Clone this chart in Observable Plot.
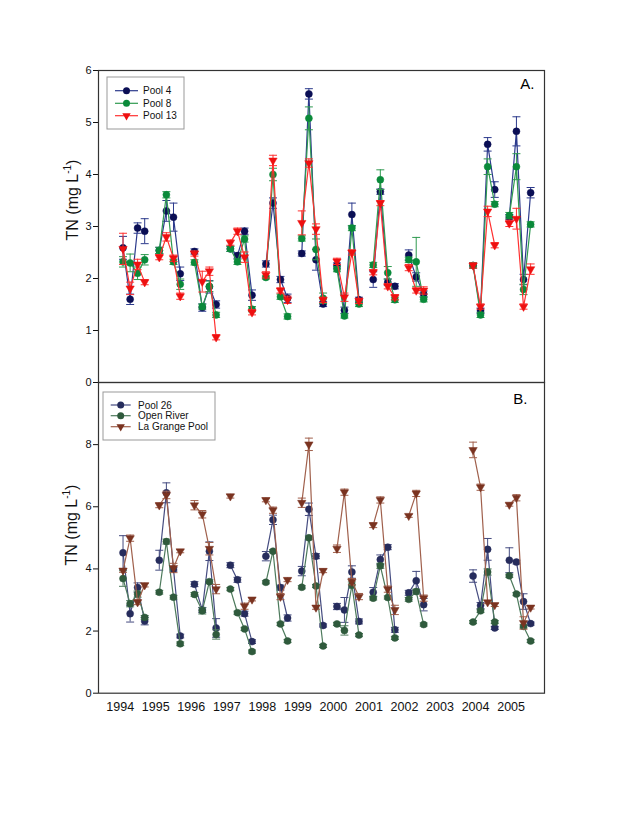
<!DOCTYPE html>
<html><head><meta charset="utf-8">
<script src="https://cdn.jsdelivr.net/npm/d3@7"></script>
<script src="https://cdn.jsdelivr.net/npm/@observablehq/plot@0.6"></script>
<style>
body{margin:0;background:#fff;font-family:"Liberation Sans",Arial,sans-serif;}
#wrap{position:relative;width:640px;height:828px;overflow:hidden;background:#fff}
#wrap svg.plot-svg{position:absolute;left:0}
.ylab{position:absolute;font-size:16px;transform:translate(-50%,-50%) rotate(-90deg);white-space:nowrap;color:#111;line-height:1}
.ylab sup{font-size:10px}
</style></head><body><div id="wrap"></div>
<script>
// sample dates (decimal years)
const sampleDates = [
 1994.08,1994.28,1994.49,1994.69,
 1995.10,1995.30,1995.50,1995.69,
 1996.09,1996.31,1996.51,1996.70,
 1997.10,1997.30,1997.50,1997.71,
 1998.10,1998.30,1998.51,1998.71,
 1999.11,1999.31,1999.51,1999.71,
 2000.10,2000.31,2000.52,2000.72,
 2001.12,2001.32,2001.53,2001.73,
 2002.12,2002.33,2002.54,
 2003.93,2004.14,2004.34,2004.54,
 2004.95,2005.15,2005.35,2005.55];
const yearTicks = [1994,1995,1996,1997,1998,1999,2000,2001,2002,2003,2004,2005];
const yTicksA = [0,1,2,3,4,5,6];
const yTicksB = [0,2,4,6,8];

// Panel A
const pool4 = [2.59,1.60,2.97,2.91, 2.54,3.30,3.18,2.09, 2.52,1.44,1.84,1.50, 2.57,2.44,2.91,1.68, 2.28,3.45,1.98,1.62, 2.48,5.55,2.36,1.51, 2.25,1.39,3.23,1.59, 1.98,3.67,1.93,1.85, 2.45,2.03,1.70, 2.25,1.38,4.58,3.71, 3.18,4.83,1.98,3.65];
const pool4Err = [0.22,0.10,0.10,0.24, 0.06,0.20,0.27,0.13, 0.05,0.07,0.12,0.07, 0.05,0.05,0.06,0.10, 0.06,0.10,0.06,0.08, 0.05,0.10,0.20,0.05, 0.05,0.06,0.22,0.05, 0.15,0.05,0.06,0.05, 0.10,0.08,0.06, 0.05,0.05,0.13,0.15, 0.05,0.28,0.10,0.10];
const pool8 = [2.32,2.30,2.10,2.36, 2.54,3.61,2.32,1.89, 2.31,1.46,1.85,1.30, 2.57,2.32,2.76,1.41, 2.02,4.00,1.65,1.27, 2.77,5.08,2.56,1.62, 2.18,1.28,2.97,1.51, 2.26,3.90,2.11,1.59, 2.36,2.32,1.60, 2.25,1.30,4.15,3.43, 3.21,4.15,1.79,3.04];
const pool8Err = [0.10,0.17,0.12,0.10, 0.06,0.06,0.05,0.10, 0.05,0.05,0.10,0.05, 0.05,0.05,0.06,0.05, 0.03,0.12,0.05,0.05, 0.05,0.22,0.20,0.10, 0.05,0.04,0.05,0.05, 0.05,0.19,0.12,0.05, 0.05,0.47,0.05, 0.05,0.05,0.15,0.05, 0.06,0.25,0.10,0.05];
const pool13 = [2.57,1.81,2.27,1.93, 2.41,2.80,2.39,1.66, 2.48,1.94,2.14,0.87, 2.69,2.91,2.41,1.35, 2.07,4.27,1.77,1.59, 3.07,4.22,2.95,1.59, 2.33,1.64,2.50,1.57, 2.12,3.45,1.85,1.64, 2.21,1.77,1.77, 2.25,1.46,3.29,2.64, 3.06,3.15,1.46,2.18];
const pool13Err = [0.30,0.12,0.10,0.05, 0.05,0.08,0.06,0.06, 0.05,0.20,0.08,0.05, 0.05,0.06,0.10,0.05, 0.06,0.10,0.05,0.07, 0.23,0.08,0.10,0.05, 0.06,0.08,0.05,0.05, 0.05,0.05,0.05,0.05, 0.06,0.05,0.07, 0.05,0.05,0.10,0.05, 0.06,0.20,0.05,0.10];

// Panel B
const pool26 = [4.52,2.56,3.40,2.32, 4.28,6.45,3.99,1.84, 3.51,2.68,4.57,2.10, 4.12,3.65,2.56,1.66, 4.41,5.58,3.40,2.42, 3.93,5.92,4.41,2.18, 2.79,2.68,3.90,2.31, 3.25,4.30,4.70,2.04, 3.23,3.62,2.85, 3.77,2.82,4.63,2.10, 4.28,4.22,2.95,2.24];
const pool26Err = [0.55,0.27,0.15,0.12, 0.32,0.32,0.06,0.06, 0.08,0.08,0.30,0.30, 0.08,0.08,0.08,0.06, 0.15,0.15,0.08,0.10, 0.15,0.20,0.08,0.05, 0.10,0.40,0.20,0.08, 0.15,0.15,0.08,0.08, 0.08,0.30,0.20, 0.20,0.10,0.35,0.05, 0.40,0.06,0.25,0.05];
const openRiver = [3.69,2.88,3.19,2.44, 3.25,4.88,3.09,1.59, 3.18,2.65,3.59,1.89, 3.35,2.59,2.07,1.34, 3.57,4.57,2.23,1.68, 3.41,5.00,3.45,1.52, 2.23,2.02,3.48,1.87, 3.06,4.10,3.08,1.78, 3.02,3.27,2.21, 2.29,2.65,3.90,2.29, 3.78,3.19,2.15,1.68];
const openRiverErr = [0.25,0.10,0.10,0.06, 0.06,0.08,0.06,0.06, 0.06,0.10,0.06,0.15, 0.05,0.05,0.05,0.05, 0.05,0.05,0.05,0.05, 0.05,0.06,0.05,0.05, 0.05,0.15,0.10,0.05, 0.06,0.08,0.05,0.05, 0.06,0.08,0.05, 0.05,0.05,0.10,0.05, 0.05,0.05,0.05,0.05];
const laGrange = [3.95,4.99,2.93,3.48, 6.05,6.38,4.03,4.57, 6.05,5.76,4.65,3.35, 6.34,null,2.80,3.02, 6.22,5.89,3.11,3.65, 6.13,8.01,2.76,3.94, 4.65,6.47,3.59,3.11, 5.41,6.22,3.35,2.68, 5.71,6.43,3.06, 7.83,6.63,2.93,2.84, 6.07,6.29,2.26,2.76];
const laGrangeErr = [0.06,0.10,0.08,0.06, 0.08,0.12,0.15,0.05, 0.15,0.12,0.20,0.15, 0.06,null,0.10,0.05, 0.06,0.10,0.10,0.06, 0.15,0.20,0.06,0.06, 0.12,0.10,0.10,0.10, 0.08,0.10,0.10,0.15, 0.05,0.10,0.10, 0.25,0.10,0.05,0.05, 0.05,0.10,0.20,0.05];

const seriesA = [
  {name:"Pool 4", vals:pool4, errs:pool4Err, line:"#2c3a8c", dot:"#0b0f55", symbol:"circle"},
  {name:"Pool 8", vals:pool8, errs:pool8Err, line:"#2f9a50", dot:"#0a8a3a", symbol:"circle"},
  {name:"Pool 13", vals:pool13, errs:pool13Err, line:"#ff3030", dot:"#ee1010", symbol:"triangle"}
];
const seriesB = [
  {name:"Pool 26", vals:pool26, errs:pool26Err, line:"#454c80", dot:"#262c5c", symbol:"circle"},
  {name:"Open River", vals:openRiver, errs:openRiverErr, line:"#4d7a5c", dot:"#2f5a3c", symbol:"circle"},
  {name:"La Grange Pool", vals:laGrange, errs:laGrangeErr, line:"#a0604c", dot:"#7a3320", symbol:"triangle"}
];

const cap = {draw(ctx, size){ const r = Math.sqrt(size/Math.PI); ctx.moveTo(-r,0); ctx.lineTo(r,0); }};

function rowsOf(s){
  return s.vals.map((v,i)=>({t:sampleDates[i], v, e:s.errs[i], grp:Math.floor(sampleDates[i]+0.1)}));
}
function marksOf(s){
  const rows = rowsOf(s);
  const ok = rows.filter(d=>d.v!=null);
  const tri = s.symbol==="triangle";
  return [
    Plot.ruleX(ok, {x:"t", y1:d=>d.v-d.e, y2:d=>d.v+d.e, stroke:s.line, strokeWidth:1}),
    Plot.dot(ok, {x:"t", y:d=>d.v+d.e, symbol:cap, r:4, stroke:s.line, fill:"none", strokeWidth:1}),
    Plot.dot(ok, {x:"t", y:d=>d.v-d.e, symbol:cap, r:4, stroke:s.line, fill:"none", strokeWidth:1}),
    Plot.line(rows, {x:"t", y:"v", z:"grp", stroke:s.line, strokeWidth:1.2}),
    Plot.dot(ok, {x:"t", y:"v", symbol:s.symbol, r: tri?3.1:3.5, fill:s.dot, stroke:s.dot, strokeWidth:0.5, rotate: tri?180:0})
  ];
}

const xDomain = [1993.39, 2005.94];
const wrap = document.getElementById("wrap");
const intFmt = d => String(d);

const plotA = Plot.plot({
  width:640, height:390, marginTop:70, marginBottom:8, marginLeft:98, marginRight:96,
  style:{background:"transparent", fontFamily:"Liberation Sans, Arial, sans-serif", fontSize:"11px", color:"#111", overflow:"visible"},
  x:{domain:xDomain, axis:null},
  y:{domain:[0,6], ticks:yTicksA, tickSize:5, tickPadding:2, tickFormat:intFmt, label:null},
  marks:[
    ...seriesA.flatMap(marksOf),
    Plot.frame({stroke:"#333", strokeWidth:1.2}),
    Plot.text(["A."], {frameAnchor:"top-right", dx:-10, dy:14, lineAnchor:"middle", textAnchor:"end", fontSize:15, fill:"#000"})
  ]
});
plotA.classList.add("plot-svg");
plotA.style.top = "0px";
wrap.appendChild(plotA);

const plotB = Plot.plot({
  width:640, height:356, marginTop:10, marginBottom:35.3, marginLeft:98, marginRight:96,
  style:{background:"transparent", fontFamily:"Liberation Sans, Arial, sans-serif", fontSize:"11px", color:"#111", overflow:"visible"},
  x:{domain:xDomain},
  y:{domain:[0,10], ticks:yTicksB, tickSize:5, tickPadding:2, tickFormat:intFmt, label:null},
  marks:[
    Plot.axisX(yearTicks, {tickSize:0, tickPadding:9, tickFormat:intFmt, fontSize:12.5, label:null}),
    ...seriesB.flatMap(marksOf),
    Plot.frame({stroke:"#333", strokeWidth:1.2}),
    Plot.text(["B."], {frameAnchor:"top-right", dx:-17, dy:17, lineAnchor:"middle", textAnchor:"end", fontSize:15, fill:"#000"})
  ]
});
plotB.classList.add("plot-svg");
plotB.style.top = "372px";
wrap.appendChild(plotB);

// y labels
for (const [cy, cx] of [[200,72],[525,71]]) {
  const d = document.createElement("div");
  d.className = "ylab";
  d.style.left = cx+"px"; d.style.top = cy+"px";
  d.innerHTML = "TN (mg L<sup>-1</sup>)";
  wrap.appendChild(d);
}

// legends
function legend(series, box, itemsY, lx1, lx2, tx){
  const svg = d3.select(wrap).append("svg")
    .attr("width",640).attr("height",828)
    .style("position","absolute").style("left","0").style("top","0");
  svg.append("rect").attr("x",box[0]).attr("y",box[1]).attr("width",box[2]-box[0]).attr("height",box[3]-box[1])
    .attr("fill","#fff").attr("stroke","#999").attr("stroke-width",1);
  series.forEach((s,i)=>{
    const y = itemsY[i];
    svg.append("line").attr("x1",lx1).attr("x2",lx2).attr("y1",y).attr("y2",y).attr("stroke",s.line).attr("stroke-width",1.2);
    const mx = (lx1+lx2)/2;
    const sym = s.symbol==="triangle" ? d3.symbolTriangle : d3.symbolCircle;
    const r = s.symbol==="triangle" ? 3.1 : 3.5;
    svg.append("path").attr("d", d3.symbol(sym, r*r*Math.PI)())
      .attr("transform", `translate(${mx},${y}) rotate(${s.symbol==="triangle"?180:0})`)
      .attr("fill", s.dot);
    svg.append("text").attr("x",tx).attr("y",y).attr("dy","0.35em")
      .attr("font-size",10).attr("font-family","Liberation Sans, Arial, sans-serif").attr("fill","#111").text(s.name);
  });
}
legend(seriesA, [107,77,184,129], [90.7,103.3,115.7], 115, 138, 143);
legend(seriesB, [103,392,215,440], [405,415.7,426.7], 110.7, 130.7, 138);
</script></body></html>
